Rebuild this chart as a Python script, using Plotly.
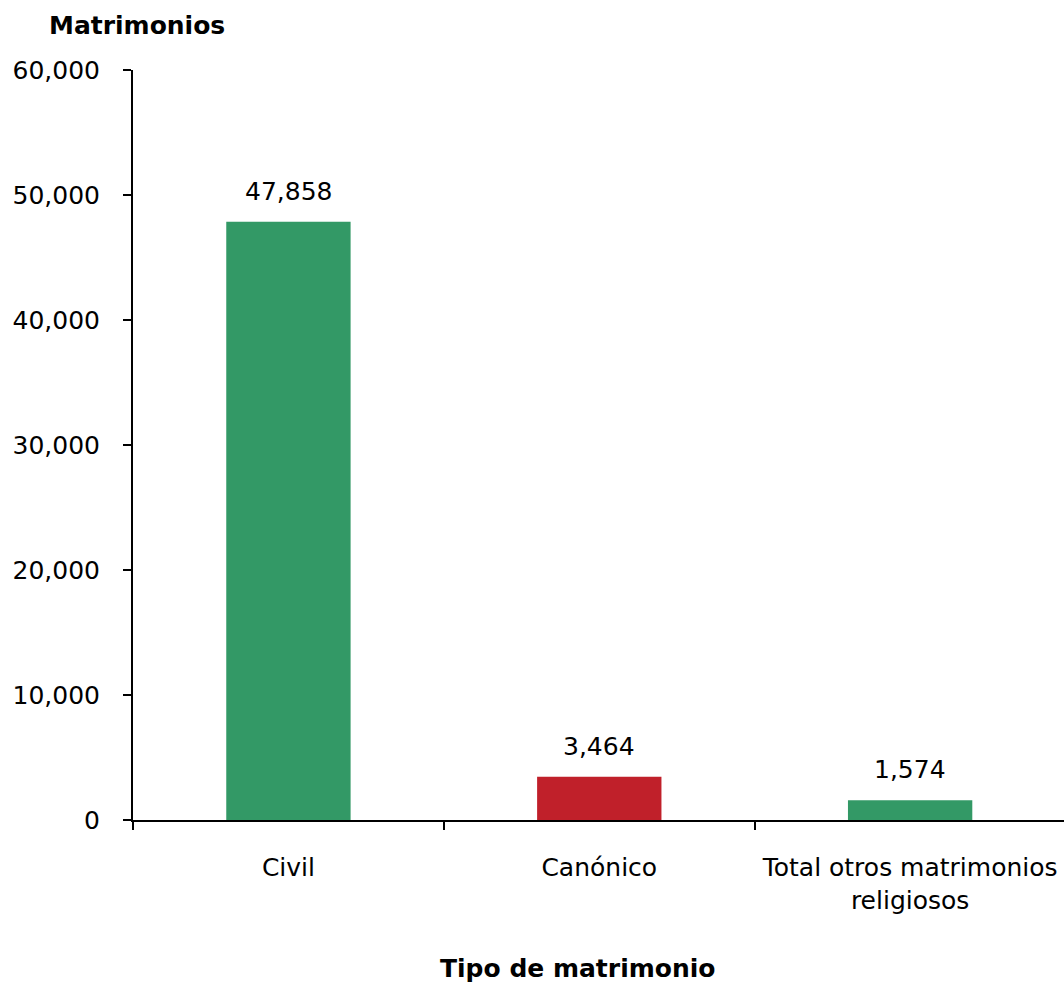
import plotly.graph_objects as go

categories = ["Civil", "Canónico", "Total otros matrimonios<br>religiosos"]
values = [47858, 3464, 1574]
colors = ["#339966", "#C0202A", "#339966"]
value_labels = ["47,858", "3,464", "1,574"]
y_ticks = [0, 10000, 20000, 30000, 40000, 50000, 60000]
y_ticktext = ["0", "10,000", "20,000", "30,000", "40,000", "50,000", "60,000"]

FONT = "DejaVu Sans"
FS = 25

fig = go.Figure()
fig.add_trace(go.Bar(
    x=categories, y=values, marker=dict(color=colors, line=dict(width=0)),
    hoverinfo="skip", showlegend=False,
))

for c, v, t in zip(categories, values, value_labels):
    fig.add_annotation(x=c, y=v, text=t, showarrow=False, xref="x", yref="y",
                       yanchor="bottom", yshift=14,
                       font=dict(family=FONT, size=FS, color="black"))

fig.add_annotation(x=-133/931, xref="paper", y=1, yref="paper", yshift=28,
                   text="<b>Matrimonios</b>", showarrow=False, xanchor="left", yanchor="bottom",
                   xshift=47, font=dict(family=FONT, size=25, color="black"))
fig.add_annotation(x=0.478, xref="paper", y=0, yref="paper", yshift=-148,
                   text="<b>Tipo de matrimonio</b>", showarrow=False, xanchor="center", yanchor="middle",
                   font=dict(family=FONT, size=25, color="black"))

fig.update_layout(
    width=1064, height=984,
    margin=dict(l=133, r=0, t=70, b=164),
    paper_bgcolor="white", plot_bgcolor="white",
    bargap=0.6,
    font=dict(family=FONT, size=FS, color="black"),
)
fig.update_xaxes(
    range=[-0.5, 2.495],
    showline=True, linecolor="black", linewidth=2,
    ticks="outside", tickson="boundaries", ticklen=8, tickwidth=2, tickcolor="black",
    showgrid=False, zeroline=False, ticklabelstandoff=24,
    tickfont=dict(family=FONT, size=FS, color="black"),
)
fig.update_yaxes(
    range=[0, 60000], tickvals=y_ticks, ticktext=y_ticktext,
    showline=True, linecolor="black", linewidth=2,
    ticks="outside", ticklen=8, tickwidth=2, tickcolor="black",
    showgrid=False, zeroline=False, ticklabelstandoff=18,
    tickfont=dict(family=FONT, size=FS, color="black"),
)

fig.write_html("out.html", config={"displayModeBar": False},
               post_script="document.body.style.margin='0';document.body.style.padding='0';")
